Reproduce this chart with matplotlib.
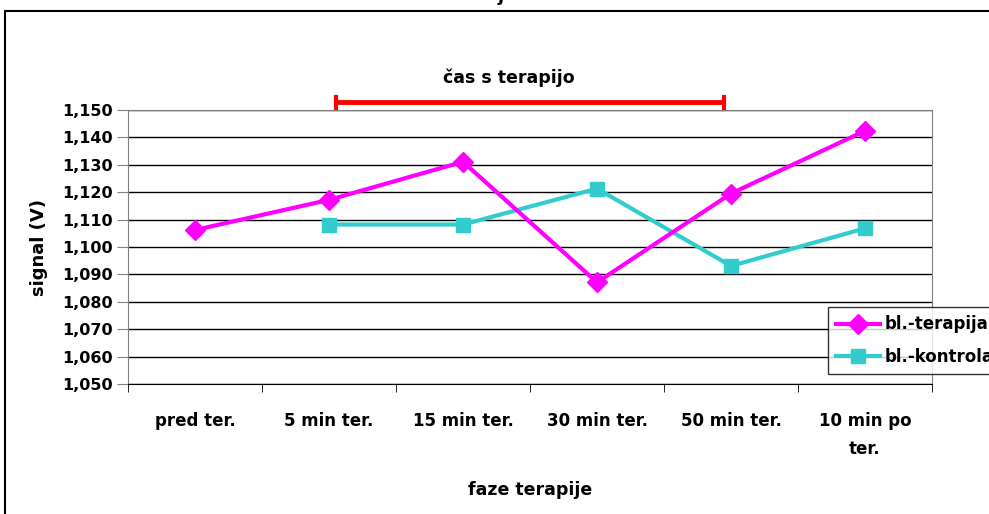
import matplotlib
matplotlib.use("Agg")
import matplotlib.pyplot as plt
from matplotlib.patches import Rectangle
from matplotlib.ticker import FuncFormatter, MultipleLocator
import numpy as np

plt.rcParams["font.family"] = ["DejaVu Sans"]
plt.rcParams["font.weight"] = "bold"

CATEGORIES = ["pred ter.", "5 min ter.", "15 min ter.", "30 min ter.",
              "50 min ter.", "10 min po\nter."]
TERAPIJA = [1.1062, 1.1172, 1.1311, 1.0871, 1.1195, 1.1424]
KONTROLA = [np.nan, 1.1082, 1.1082, 1.1213, 1.0931, 1.1068]
SERIES_LABELS = ["bl.-terapija", "bl.-kontrola"]
SPAN_LABEL = "čas s terapijo"
SPAN = (1.05, 3.95)   # category positions covered by the therapy bar

fig = plt.figure(figsize=(9.89, 5.14), dpi=100)
ax = fig.add_axes([0.1294, 0.2529, 0.8130, 0.5331])

x = np.arange(len(CATEGORIES))
ax.plot(x, TERAPIJA, color="#FF00FF", lw=3, marker="D", ms=10,
        label=SERIES_LABELS[0], zorder=4)
ax.plot(x, KONTROLA, color="#33CCCC", lw=3, marker="s", ms=10,
        label=SERIES_LABELS[1], zorder=3)

ax.set_xlim(-0.5, len(CATEGORIES) - 0.5)
ax.set_ylim(1.050, 1.150)
ax.yaxis.set_major_locator(MultipleLocator(0.01))
ax.yaxis.set_major_formatter(FuncFormatter(lambda v, p: f"{v:.3f}".replace(".", ",")))
ax.grid(True, axis="y", color="black", lw=1)
ax.set_axisbelow(True)

ax.set_xticks(x)
ax.set_xticklabels(CATEGORIES, fontsize=12, fontweight="bold", va="top",
                   linespacing=1.75)
ax.set_xticks(np.arange(len(CATEGORIES) + 1) - 0.5, minor=True)
ax.tick_params(axis="x", which="major", length=0, pad=20)
ax.tick_params(axis="x", which="minor", length=6, color="black")
ax.tick_params(axis="y", length=8, color="#808080", labelsize=11.5, pad=3)
for lab in ax.get_yticklabels():
    lab.set_fontweight("bold")

for side in ("top", "right", "left"):
    ax.spines[side].set_color("#808080")
ax.spines["bottom"].set_color("black")

ax.set_ylabel("signal (V)", fontsize=13, fontweight="bold")
ax.yaxis.set_label_coords(-0.1, 0.5)
ax.set_xlabel("faze terapije", fontsize=12.5, fontweight="bold")
ax.xaxis.set_label_coords(0.5, -0.355)

# therapy-time bar above the plot
y_bar = 1.1529
ax.plot([SPAN[0], SPAN[1]], [y_bar, y_bar], color="red", lw=3.5,
        clip_on=False, solid_capstyle="butt")
for xs in SPAN:
    ax.plot([xs, xs], [1.1505, 1.1548], color="red", lw=3, clip_on=False)
ax.text(2.34, 1.1618, SPAN_LABEL, ha="center", va="center",
        fontsize=12.5, fontweight="bold")

leg = fig.legend(loc="upper left", bbox_to_anchor=(828 / 989, 1 - 307 / 514),
                 fontsize=12, frameon=True, fancybox=False, handlelength=2.6,
                 borderpad=0.5, labelspacing=0.85, handletextpad=0.3,
                 borderaxespad=0)
leg.get_frame().set_edgecolor("black")
leg.get_frame().set_linewidth(1)
for t in leg.get_texts():
    t.set_fontweight("bold")

# outer chart frame (cropped on the right and bottom)
fig.patches.append(Rectangle((5 / 989, -0.1), 1.2, 1.1 - 11 / 514,
                             transform=fig.transFigure, fill=False,
                             edgecolor="black", lw=1.5))
# clipped chart title, only a descender shows
fig.text(0.506, 1 - 1 / 514, "j", ha="center", va="baseline",
         fontsize=13, fontweight="bold")

fig.savefig("out.png", dpi=100)
